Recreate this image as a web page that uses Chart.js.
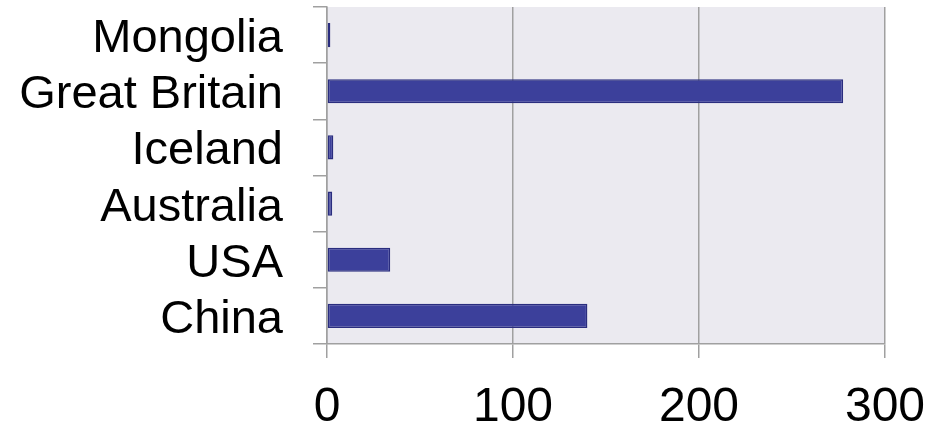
<!DOCTYPE html>
<html>
<head>
<meta charset="utf-8">
<script src="https://cdn.jsdelivr.net/npm/chart.js@4"></script>
<style>
html,body{margin:0;padding:0;background:#fff;}
#wrap{width:943px;height:429px;position:relative;}
</style>
</head>
<body>
<div id="wrap"><canvas id="c" width="943" height="429"></canvas></div>
<script>
const categories = ["Mongolia", "Great Britain", "Iceland", "Australia", "USA", "China"];
const values = [1.8, 277.5, 3.4, 2.8, 34, 140];
const xTicks = [0, 100, 200, 300];

const plotBg = {
  id: 'plotBg',
  beforeDraw(chart) {
    const {ctx, chartArea: a} = chart;
    ctx.save();
    ctx.fillStyle = '#ebeaf0';
    ctx.fillRect(a.left, a.top, a.right - a.left, a.bottom - a.top);
    ctx.restore();
  }
};

function zeroPad(scale) {
  scale.paddingTop = 0; scale.paddingBottom = 0;
  scale.paddingLeft = 0; scale.paddingRight = 0;
}

new Chart(document.getElementById('c'), {
  type: 'bar',
  data: {
    labels: categories,
    datasets: [{
      data: values,
      backgroundColor: '#3c409b',
      borderColor: '#2a2d7e',
      borderWidth: 1.5,
      borderSkipped: false,
      categoryPercentage: 1,
      barPercentage: 0.43
    }]
  },
  options: {
    indexAxis: 'y',
    responsive: false,
    animation: false,
    devicePixelRatio: 1,
    layout: { padding: { top: 7, right: 58, left: 0, bottom: 0 } },
    plugins: { legend: { display: false }, tooltip: { enabled: false } },
    scales: {
      x: {
        min: 0, max: 300,
        afterBuildTicks(scale) { scale.ticks = xTicks.map(v => ({ value: v })); },
        afterFit(scale) { scale.height = 85; zeroPad(scale); },
        grid: { color: '#a0a0a0', lineWidth: 1.5, tickLength: 14, drawOnChartArea: true },
        border: { display: true, color: '#a0a0a0', width: 1.5 },
        ticks: {
          color: '#000',
          padding: 21,
          maxRotation: 0,
          autoSkip: false,
          font: { family: 'Liberation Sans, Arial', size: 48 }
        }
      },
      y: {
        afterFit(scale) { scale.width = 327; zeroPad(scale); },
        grid: { color: '#a0a0a0', lineWidth: 1.5, tickLength: 14, drawOnChartArea: false, offset: true },
        border: { display: true, color: '#a0a0a0', width: 1.5 },
        ticks: {
          color: '#000',
          padding: 30,
          labelOffset: 4,
          autoSkip: false,
          font: { family: 'Liberation Sans, Arial', size: 47 }
        }
      }
    }
  },
  plugins: [plotBg]
});
</script>
</body>
</html>
